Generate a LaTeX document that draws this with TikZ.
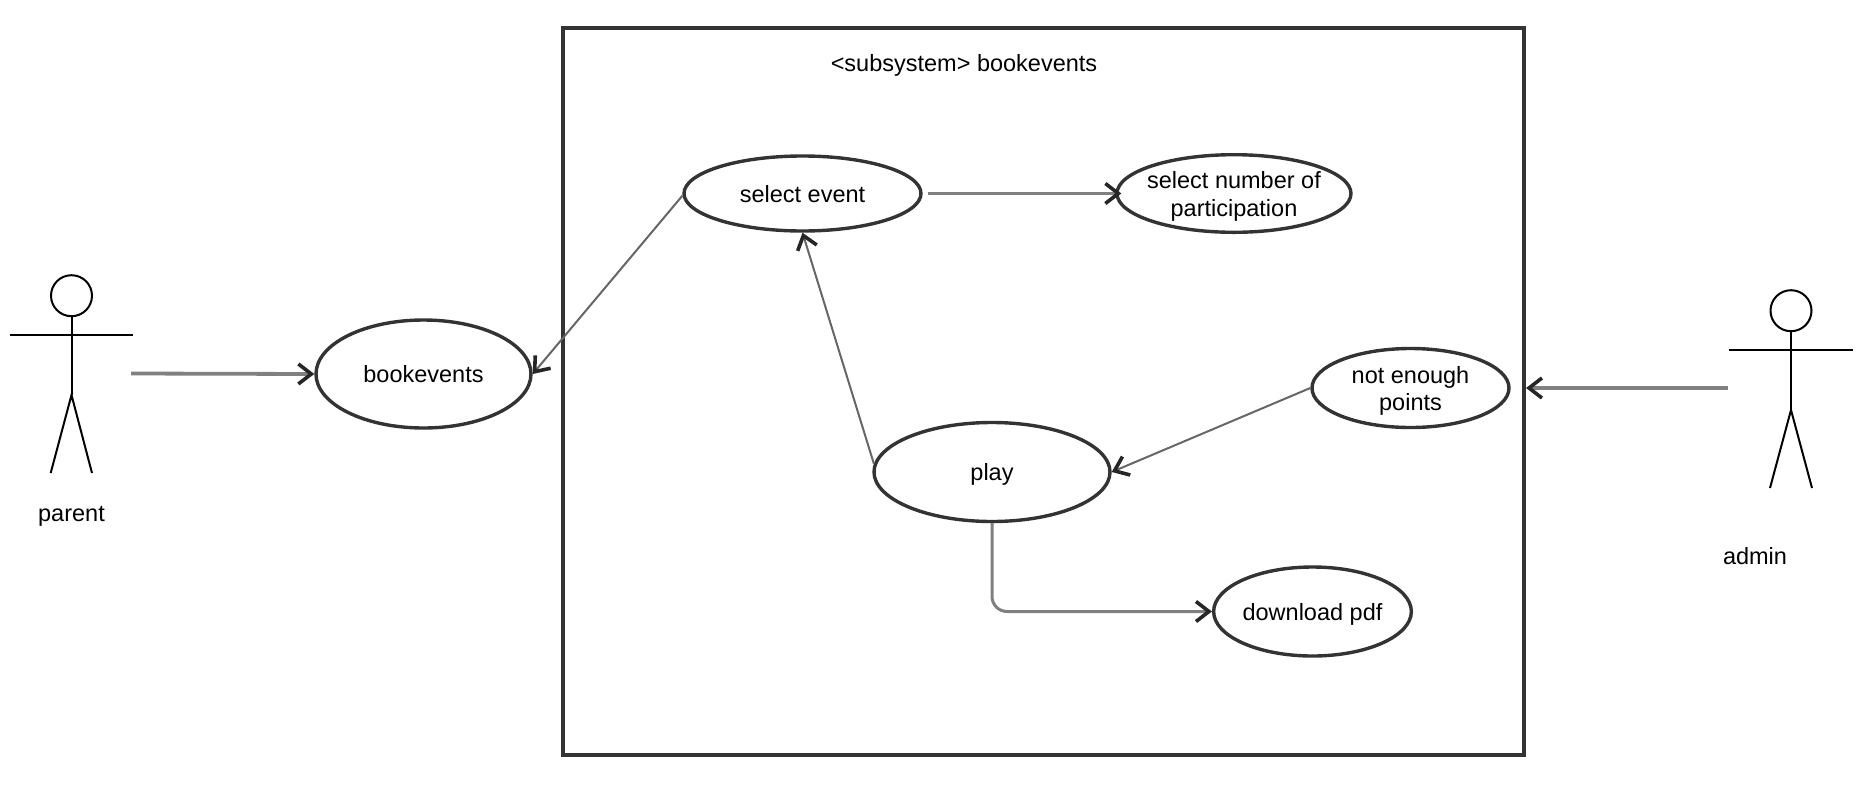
\documentclass[tikz,border=0pt]{standalone}
\usepackage{fontspec}
\setmainfont{Liberation Sans}
\usetikzlibrary{arrows.meta,shapes.geometric}
\newcommand{\firstline}{\rule{0pt}{22.5pt}}
\tikzset{
  usecase/.style={ellipse, draw=black!80, line width=3.4pt, inner sep=0pt, align=center},
  oneline/.style={usecase, text height=22.5pt, text depth=5pt},
  stick/.style={draw=black, line width=2pt},
  thickflow/.style={draw=black!50, line width=3.8pt, -{Straight Barb[black!85, length=13pt, width=20pt, line width=3.6pt]}},
  thinflow/.style={draw=black!60, line width=2pt, -{Straight Barb[black!85, length=13pt, width=20pt, line width=3.6pt]}}
}
\begin{document}
\begin{tikzpicture}[x=1pt, y=-1pt, every node/.style={font=\fontsize{23.5}{27.5}\selectfont}]
    \useasboundingbox (0,0) rectangle (1872,793);

    % subsystem frame
    \coordinate (FA) at (563,28);
    \coordinate (FB) at (1524,755);
    \draw[draw=black!80, line width=3.6pt] (FA) rectangle (FB);
    \node (title) at (964,65.5) {<subsystem> bookevents};

    % use cases
    \node[oneline, minimum width=215pt, minimum height=108pt] (bookevents) at (423.5,374) {bookevents};
    \node[oneline, minimum width=237pt, minimum height=75pt] (selectevent) at (802.5,193.5) {select event};
    \node[usecase, minimum width=234pt, minimum height=76pt] (selectnumber) at (1234,193.5) {\makebox[150pt]{\firstline select number of}\\participation};
    \node[usecase, minimum width=197pt, minimum height=79pt] (notenough) at (1410.5,388) {\firstline not enough\\points};
    \node[oneline, minimum width=236pt, minimum height=99pt] (play) at (992,472) {play};
    \node[oneline, minimum width=197pt, minimum height=89pt] (download) at (1312.5,611.5) {download pdf};

    % parent actor
    \coordinate (PA) at (71.5,316);
    \coordinate (PB) at (71.5,395);
    \draw[stick] (71.5,295.7) circle (20.5pt);
    \draw[stick] (PA) -- (PB);
    \draw[stick] (10,335) -- (133,335);
    \draw[stick] (50.7,473) -- (PB) -- (92,473);
    \node (parent) at (71.5,516.5) {parent};

    % admin actor
    \coordinate (AA) at (1791,331);
    \coordinate (AB) at (1791,410);
    \draw[stick] (1791,310.7) circle (20.5pt);
    \draw[stick] (AA) -- (AB);
    \draw[stick] (1729,350) -- (1853,350);
    \draw[stick] (1770,488) -- (AB) -- (1812,488);
    \node (admin) at (1755,556) {admin};

    % connectors
    \coordinate (PF) at (131,373.5);
    \coordinate (AF) at (1728,388);
    \coordinate (FE) at (1526,388);
    \draw[thickflow] (PF) -- (bookevents.west);
    \draw[thickflow] (AF) -- (FE);
    \draw[thickflow, shorten >=-6pt] ([xshift=5pt]selectevent.east) -- (selectnumber.west);
    \draw[thinflow] (selectevent.181) -- (bookevents.east);
    \draw[thinflow] (play.176) -- (selectevent.south);
    \draw[thinflow] (notenough.west) -- (play.east);
    \draw[thickflow, line width=3pt, rounded corners=15pt] (play.south) -- (play.south |- download.west) -- (download.west);
\end{tikzpicture}
\end{document}
